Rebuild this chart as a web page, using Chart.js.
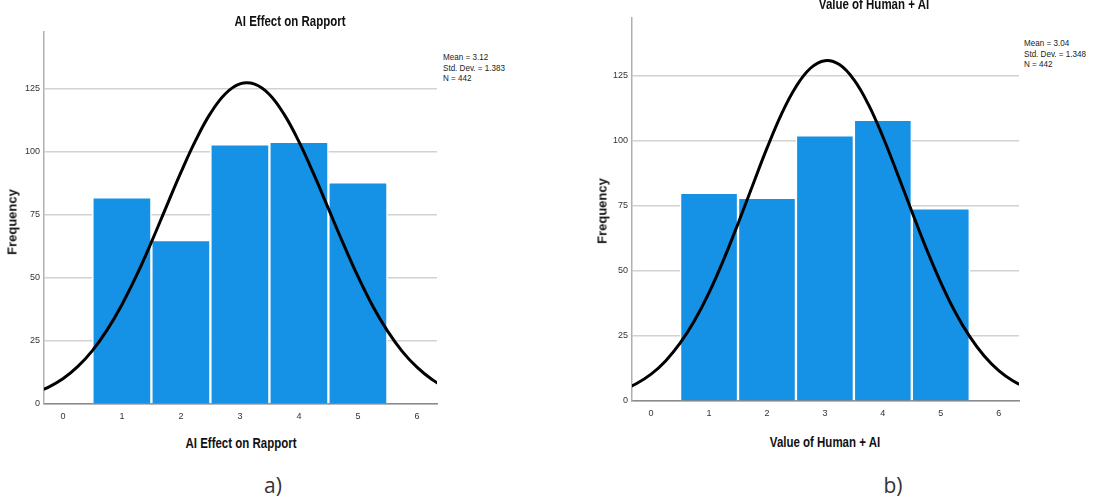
<!DOCTYPE html>
<html>
<head>
<meta charset="utf-8">
<script src="https://cdn.jsdelivr.net/npm/chart.js@4"></script>
<style>
  body { margin: 0; background: #fff; width: 1102px; height: 500px; overflow: hidden; position: relative; }
  canvas { position: absolute; }
  .t { position: absolute; white-space: nowrap; color: #111; font-family: "Liberation Sans", Arial, sans-serif; }
  .title { font-weight: bold; font-size: 14px; transform: translate(-50%, -50%) scaleX(0.82); }
  .ylab { font-weight: bold; font-size: 13px; transform: translate(-50%, -50%) rotate(-90deg); }
  .stats { font-size: 9.5px; line-height: 10.5px; color: #222; transform: scaleX(0.85); transform-origin: 0 0; }
  .cap { font-family: "Open Sans", "Noto Sans", sans-serif; font-size: 21px; color: #333; transform: translate(-50%, -50%); }
</style>
</head>
<body>
<canvas id="left" width="440" height="430" style="left:0;top:0"></canvas>
<canvas id="right" width="434" height="427" style="left:588px;top:0"></canvas>

<div class="t title" style="left:290px;top:21px">AI Effect on Rapport</div>
<div class="t title" style="left:241px;top:443px">AI Effect on Rapport</div>
<div class="t ylab" style="left:12px;top:222px">Frequency</div>
<div class="t stats" style="left:443px;top:52px">Mean = 3.12<br>Std. Dev. = 1.383<br>N = 442</div>
<div class="t cap" style="left:273px;top:485px">a)</div>

<div class="t title" style="left:874px;top:4px">Value of Human + AI</div>
<div class="t title" style="left:825px;top:442px">Value of Human + AI</div>
<div class="t ylab" style="left:602px;top:211px">Frequency</div>
<div class="t stats" style="left:1024px;top:38px">Mean = 3.04<br>Std. Dev. = 1.348<br>N = 442</div>
<div class="t cap" style="left:893px;top:485px">b)</div>

<script>
const binCenters = [1, 2, 3, 4, 5];
const rapportCounts = [82, 65, 103, 104, 88];
const humanAiCounts = [80, 78, 102, 108, 74];

// fitted normal curves
const curveX = [-0.5, -0.25, 0, 0.25, 0.5, 0.75, 1, 1.25, 1.5, 1.75, 2, 2.25, 2.5, 2.75, 3,
  3.25, 3.5, 3.75, 4, 4.25, 4.5, 4.75, 5, 5.25, 5.5, 5.75, 6, 6.25, 6.5];
const rapportCurve = [4.2, 6.6, 10.0, 14.8, 21.2, 29.4, 39.4, 51.1, 64.2, 78.1, 91.9, 104.6, 115.3, 123.0, 127.0,
  126.9, 122.8, 114.9, 104.1, 91.3, 77.5, 63.7, 50.6, 38.9, 29.0, 20.9, 14.6, 9.8, 6.4];
const humanAiCurve = [4.2, 6.7, 10.3, 15.4, 22.2, 30.9, 41.6, 54.2, 68.1, 82.7, 97.1, 110.2, 120.7, 127.8, 130.7,
  129.2, 123.4, 113.9, 101.5, 87.4, 72.8, 58.5, 45.5, 34.1, 24.7, 17.3, 11.7, 7.7, 4.9];

const xTicks = [0, 1, 2, 3, 4, 5, 6];
const yTicks = [0, 25, 50, 75, 100, 125];

const tickFont = { family: '"Liberation Sans", Arial, sans-serif', size: 9 };

function makeHistogram(id, counts, curve, xMin, xMax, yMax, topPad) {
  const ctx = document.getElementById(id).getContext('2d');
  return new Chart(ctx, {
    type: 'bar',
    data: {
      datasets: [
        {
          type: 'line',
          data: curveX.map((x, i) => ({ x: x, y: curve[i] })),
          borderColor: '#000',
          borderWidth: 3,
          pointRadius: 0,
          tension: 0.4,
          fill: false,
          order: 0,
        },
        {
          type: 'bar',
          data: binCenters.map((x, i) => ({ x: x, y: counts[i] })),
          backgroundColor: '#1591e6',
          borderColor: '#ffffff',
          borderWidth: 1.5,
          barPercentage: 1,
          categoryPercentage: 1,
          order: 1,
        },
      ],
    },
    options: {
      responsive: false,
      animation: false,
      layout: { padding: { top: topPad, right: 3, left: 0, bottom: 0 } },
      plugins: { legend: { display: false }, title: { display: false }, tooltip: { enabled: false } },
      scales: {
        x: {
          type: 'linear',
          offset: false,
          min: xMin,
          max: xMax,
          grid: { display: false, drawTicks: false, offset: false },
          border: { color: '#8a8a8a', width: 1.5 },
          ticks: { font: tickFont, color: '#333', padding: 7 },
          afterBuildTicks: (axis) => { axis.ticks = xTicks.map((v) => ({ value: v })); },
          afterFit: (axis) => { axis.height = 26; },
        },
        y: {
          min: 0,
          max: yMax,
          grid: { color: '#d2d2d2', lineWidth: 1.5, drawTicks: false },
          border: { color: '#b0b0b0', width: 1.5 },
          ticks: { font: tickFont, color: '#333', padding: 4 },
          afterBuildTicks: (axis) => { axis.ticks = yTicks.map((v) => ({ value: v })); },
          afterFit: (axis) => { axis.width = 44; },
        },
      },
    },
  });
}

makeHistogram('left', rapportCounts, rapportCurve, -0.32, 6.34, 147.6, 32);
makeHistogram('right', humanAiCounts, humanAiCurve, -0.33, 6.35, 147.1, 18);
</script>
</body>
</html>
